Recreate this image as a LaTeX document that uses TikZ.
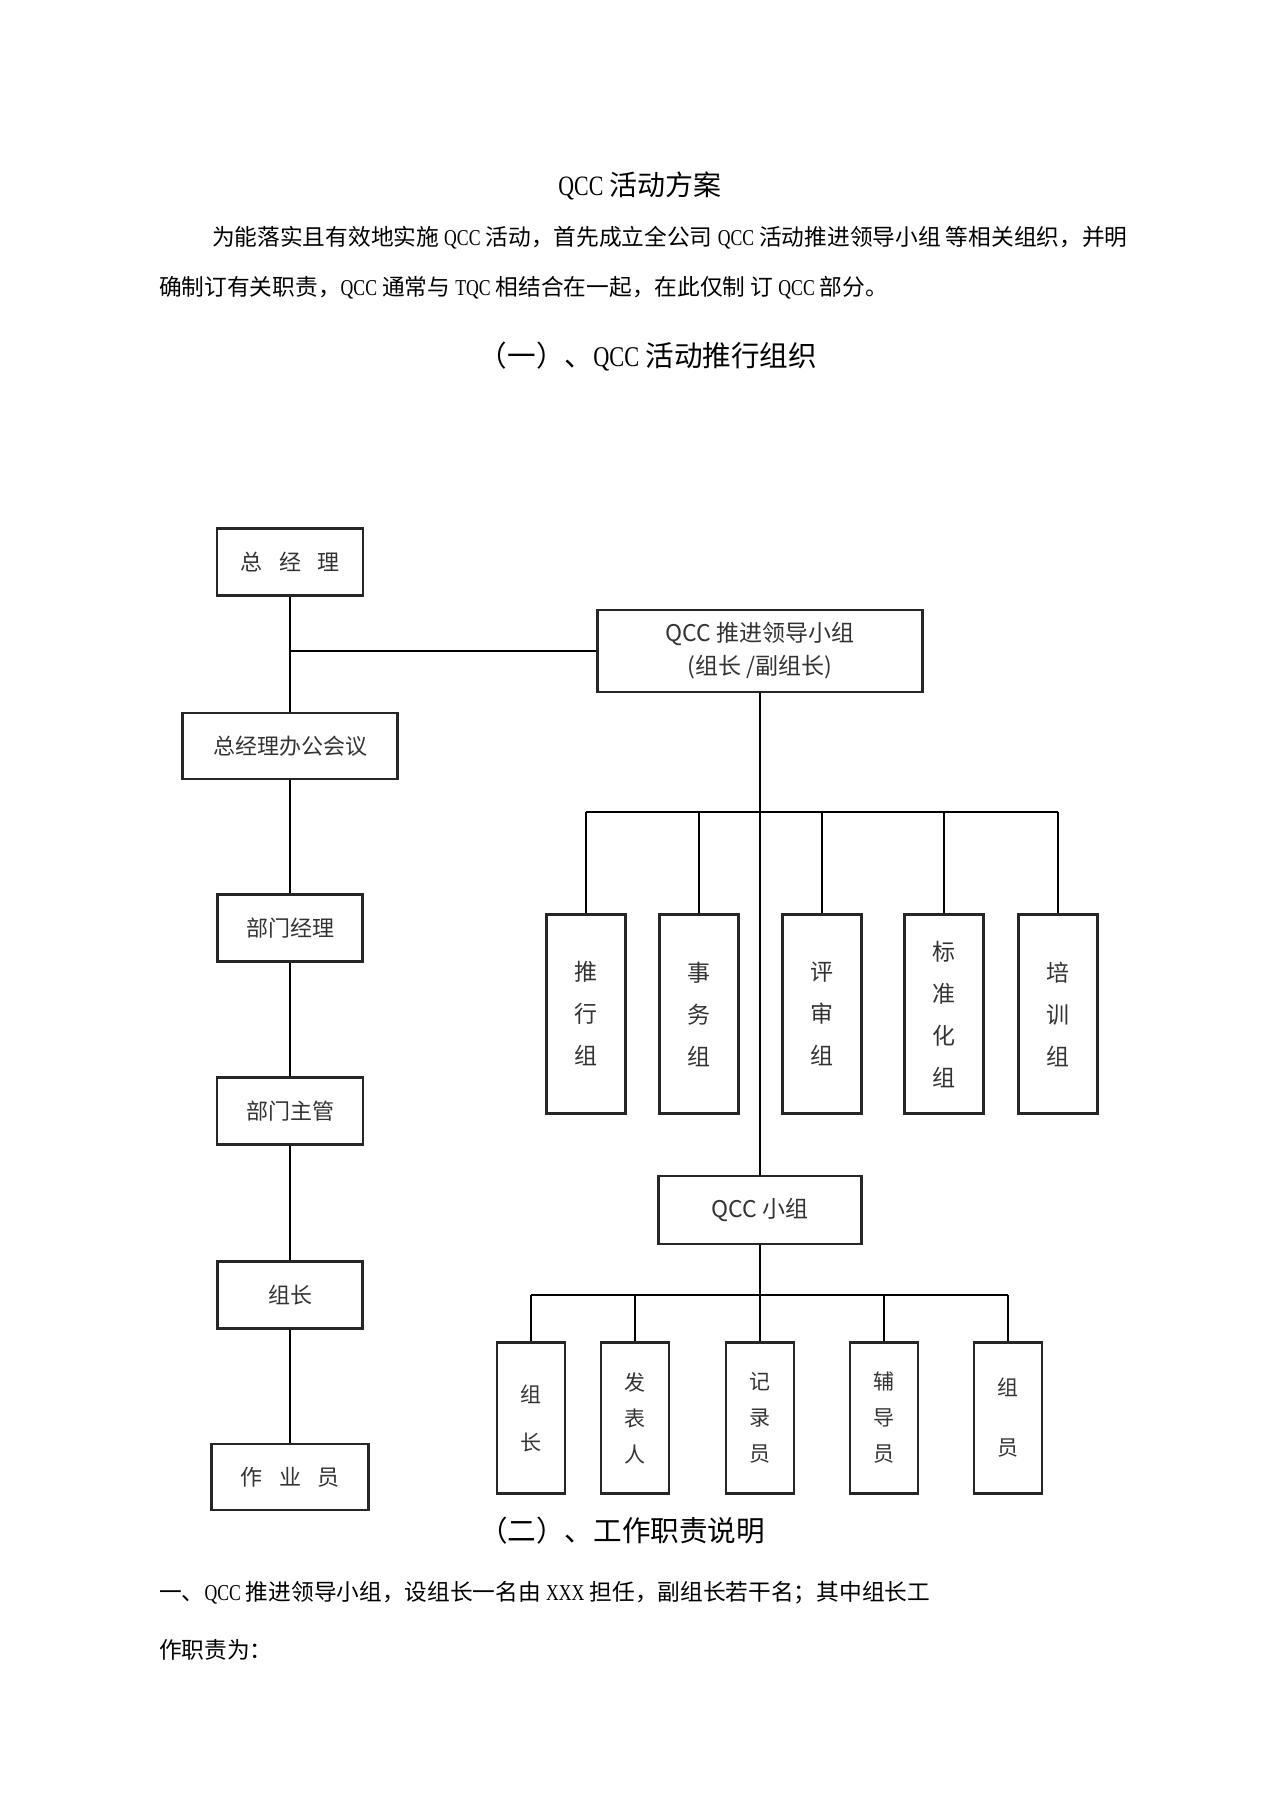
\documentclass[tikz,border=0pt]{standalone}
\usepackage{fontspec}
\setmainfont{Noto Sans CJK SC}
\newfontfamily\latn[FakeStretch=0.78]{Liberation Serif}
\begin{document}
\begin{tikzpicture}[x=0.5pt,y=-0.5pt,line width=1.1pt,
    box/.style={draw=black!85,fill=white,inner sep=0pt,text=black!80,
        font=\fontsize{11pt}{13pt}\selectfont},
    tall/.style={box,minimum width=39.5pt,minimum height=99.5pt,align=center,
        font=\fontsize{11.5pt}{21pt}\selectfont},
    txt/.style={inner sep=0pt,font=\fontsize{11.35pt}{13pt}\selectfont}]
\useasboundingbox (0,0) rectangle (1274,1805);
% text of the page
\node[txt,font=\fontsize{14pt}{16pt}\selectfont] (title) at (640,186) {{\latn QCC} 活动方案};
\node[txt,anchor=west] (para1) at (211,238) {为能落实且有效地实施 {\latn QCC} 活动，首先成立全公司 {\latn QCC} 活动推进领导小组 等相关组织，并明};
\node[txt,anchor=west] (para2) at (158,288) {确制订有关职责，{\latn QCC} 通常与 {\latn TQC} 相结合在一起，在此仅制 订 {\latn QCC} 部分。};
\node[txt,font=\fontsize{14.3pt}{17pt}\selectfont] (sec1) at (648,357) {（一）、{\latn QCC} 活动推行组织};
\node[txt,font=\fontsize{14.3pt}{17pt}\selectfont] (sec2) at (622,1531) {（二）、工作职责说明};
\node[txt,anchor=west] (line1) at (158,1593) {一、{\latn QCC} 推进领导小组，设组长一名由 {\latn XXX} 担任，副组长若干名；其中组长工};
\node[txt,anchor=west] (line2) at (158,1650) {作职责为：};

% left column
\node[box,minimum width=73pt,minimum height=33.5pt] (gm) at (290,562) {总\hspace{.75em}经\hspace{.75em}理};
\node[box,minimum width=107.5pt,minimum height=33pt] (meet) at (290,746) {总经理办公会议};
\node[box,minimum width=72.5pt,minimum height=33.5pt] (deptmgr) at (290,928) {部门经理};
\node[box,minimum width=73pt,minimum height=33.5pt] (deptsup) at (290,1111) {部门主管};
\node[box,minimum width=72.5pt,minimum height=33.5pt] (leader) at (290,1295) {组长};
\node[box,minimum width=78.5pt,minimum height=33pt] (worker) at (290,1477) {作\hspace{.75em}业\hspace{.75em}员};
\draw (gm) -- (meet) -- (deptmgr) -- (deptsup) -- (leader) -- (worker);

% right column
\node[box,minimum width=162.5pt,minimum height=41pt,align=center,
    font=\fontsize{11.5pt}{16.5pt}\selectfont] (lead) at (760,651) {QCC 推进领导小组\\(组长 /副组长)};
\draw (gm.south |- lead.west) -- (lead.west);
\node[box,minimum width=101.5pt,minimum height=34pt,font=\fontsize{11.5pt}{14pt}\selectfont] (qcc) at (760,1210) {QCC 小组};
\draw (lead) -- (qcc);

\coordinate (busA) at (760,812);
\foreach \x/\n/\t in {586/tuixing/推\\行\\组,699/shiwu/事\\务\\组,822/pingshen/评\\审\\组,944/biaozhun/标\\准\\化\\组,1058/peixun/培\\训\\组}
{
    \node[tall] (\n) at (\x,1014) {\t};
    \draw (\n.north) -- (\n.north |- busA);
}
\draw (tuixing.north |- busA) -- (peixun.north |- busA);

\coordinate (busB) at (760,1295);
\foreach \x/\n/\s/\t in {531/zuzhang/24/组\\长,635/fabiao/18/发\\表\\人,760/jilu/18/记\\录\\员,884/fudao/18/辅\\导\\员,1008/zuyuan/30/组\\员}
{
    \node[box,minimum width=34pt,minimum height=75.5pt,align=center,
        font=\fontsize{10.5pt}{\s pt}\selectfont] (\n) at (\x,1418) {\t};
    \draw (\n.north) -- (\n.north |- busB);
}
\draw (zuzhang.north |- busB) -- (zuyuan.north |- busB);
\draw (qcc) -- (jilu);
\end{tikzpicture}
\end{document}
